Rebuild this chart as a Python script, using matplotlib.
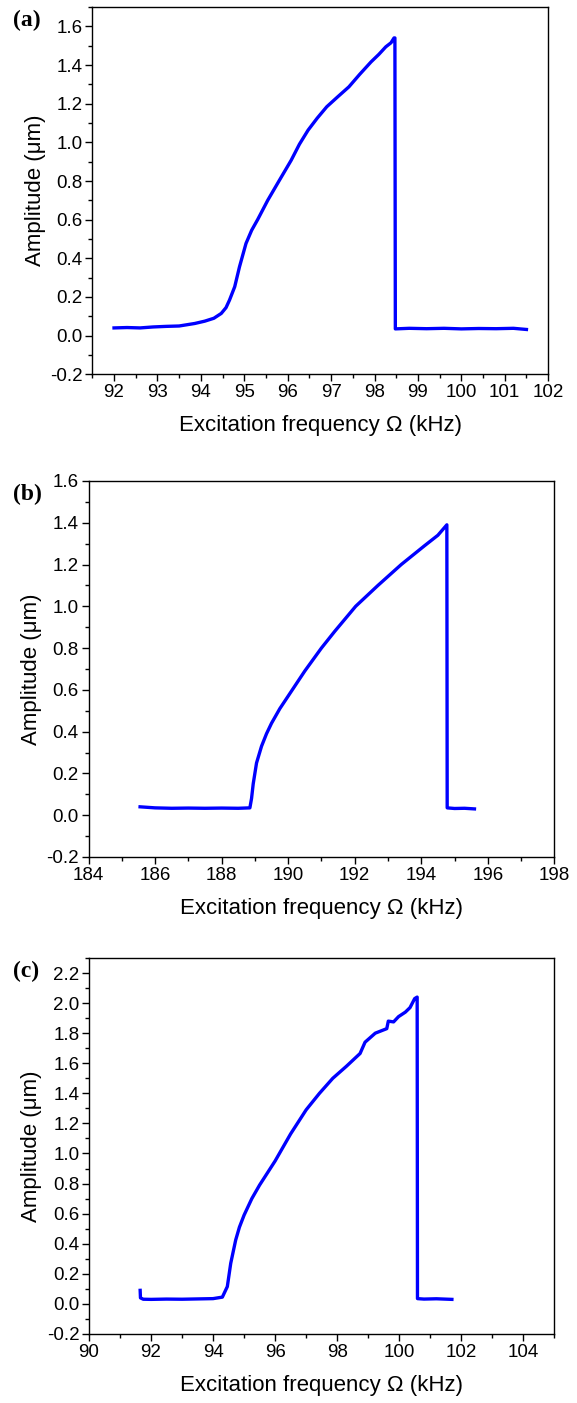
import numpy as np
import matplotlib.pyplot as plt
from matplotlib.ticker import MultipleLocator

plt.rcParams['font.family'] = ['Liberation Sans', 'DejaVu Sans']

# panel (a): frequency sweep around 92-102 kHz
a_freq = [92.0, 92.3, 92.6, 92.9, 93.2, 93.5, 93.86, 94.09, 94.3, 94.47, 94.58, 94.66,
          94.78, 94.89, 95.04, 95.17, 95.31, 95.54, 95.81, 96.08, 96.27, 96.47, 96.68,
          96.9, 97.15, 97.41, 97.66, 97.92, 98.1, 98.26, 98.38, 98.45, 98.47, 98.48,
          98.8, 99.2, 99.6, 100.0, 100.4, 100.8, 101.2, 101.5]
a_amp = [0.04, 0.042, 0.04, 0.045, 0.048, 0.05, 0.063, 0.075, 0.09, 0.115, 0.145, 0.184,
         0.253, 0.356, 0.477, 0.545, 0.601, 0.70, 0.804, 0.907, 0.99, 1.063, 1.125,
         1.184, 1.235, 1.287, 1.352, 1.416, 1.455, 1.494, 1.515, 1.54, 1.54, 0.035,
         0.038, 0.036, 0.038, 0.035, 0.037, 0.036, 0.038, 0.032]

# panel (b): second mode around 185-196 kHz
b_freq = [185.55, 186.0, 186.5, 187.0, 187.5, 188.0, 188.5, 188.85, 188.9, 188.95, 189.05,
          189.2, 189.35, 189.5, 189.75, 190.0, 190.5, 191.0, 191.4, 192.03, 192.7, 193.4,
          194.1, 194.5, 194.77, 194.78, 195.0, 195.3, 195.6]
b_amp = [0.04, 0.035, 0.033, 0.034, 0.033, 0.034, 0.033, 0.035, 0.08, 0.15, 0.25,
         0.33, 0.39, 0.44, 0.51, 0.57, 0.69, 0.80, 0.88, 1.0, 1.1, 1.2,
         1.29, 1.34, 1.39, 0.035, 0.032, 0.033, 0.03]

# panel (c): higher excitation level around 92-102 kHz
c_freq = [91.65, 91.66, 91.75, 92.0, 92.5, 93.0, 93.5, 94.0, 94.3, 94.46, 94.57, 94.73,
          94.85, 95.0, 95.25, 95.5, 95.75, 96.0, 96.5, 97.0, 97.43, 97.86, 98.3, 98.74,
          98.9, 99.23, 99.6, 99.65, 99.82, 99.98, 100.2, 100.35, 100.5, 100.58, 100.59,
          100.8, 101.2, 101.7]
c_amp = [0.09, 0.04, 0.031, 0.03, 0.032, 0.031, 0.033, 0.035, 0.045, 0.115, 0.27, 0.425,
         0.51, 0.59, 0.70, 0.79, 0.87, 0.95, 1.13, 1.29, 1.40, 1.50, 1.58, 1.665,
         1.74, 1.80, 1.83, 1.88, 1.875, 1.91, 1.94, 1.97, 2.03, 2.04, 0.035,
         0.032, 0.034, 0.03]

panels = [
    # label, x, y, xlim, ylim, xmajor, xminor, axes rect
    ('(a)', a_freq, a_amp, (91.5, 102), (-0.2, 1.7), 1, 0.5, [0.160, 0.7332, 0.790, 0.2618]),
    ('(b)', b_freq, b_amp, (184, 198), (-0.2, 1.6), 2, 1, [0.1534, 0.3892, 0.8073, 0.2680]),
    ('(c)', c_freq, c_amp, (90, 105), (-0.2, 2.3), 2, 1, [0.1542, 0.0492, 0.8064, 0.2680]),
]

fig = plt.figure(figsize=(5.77, 14.03), dpi=100)

for label, x, y, xlim, ylim, xmaj, xmin, rect in panels:
    ax = fig.add_axes(rect)
    ax.plot(x, y, color='#0000ff', lw=2.4, solid_joinstyle='round')
    ax.set_xlim(*xlim)
    ax.set_ylim(*ylim)
    ax.xaxis.set_major_locator(MultipleLocator(xmaj))
    ax.xaxis.set_minor_locator(MultipleLocator(xmin))
    ax.yaxis.set_major_locator(MultipleLocator(0.2))
    ax.yaxis.set_minor_locator(MultipleLocator(0.1))
    ax.yaxis.set_major_formatter(plt.FormatStrFormatter('%.1f'))
    ax.tick_params(which='both', direction='out', top=False, right=False,
                   labelsize=13.5, width=1.0)
    ax.tick_params(which='major', length=5, pad=2)
    ax.tick_params(which='minor', length=3)
    for s in ax.spines.values():
        s.set_linewidth(1.0)
    ax.set_xlabel('Excitation frequency \u03a9 (kHz)', fontsize=16, labelpad=10)
    ax.set_ylabel('Amplitude (\u03bcm)', fontsize=16, labelpad=3)
    # panel letter next to the top tick label
    top = rect[1] + rect[3]
    fig.text(0.022, top - 0.002, label, family='Liberation Serif', weight='bold',
             fontsize=17, va='top', ha='left')

plt.savefig('out.png', dpi=100)
